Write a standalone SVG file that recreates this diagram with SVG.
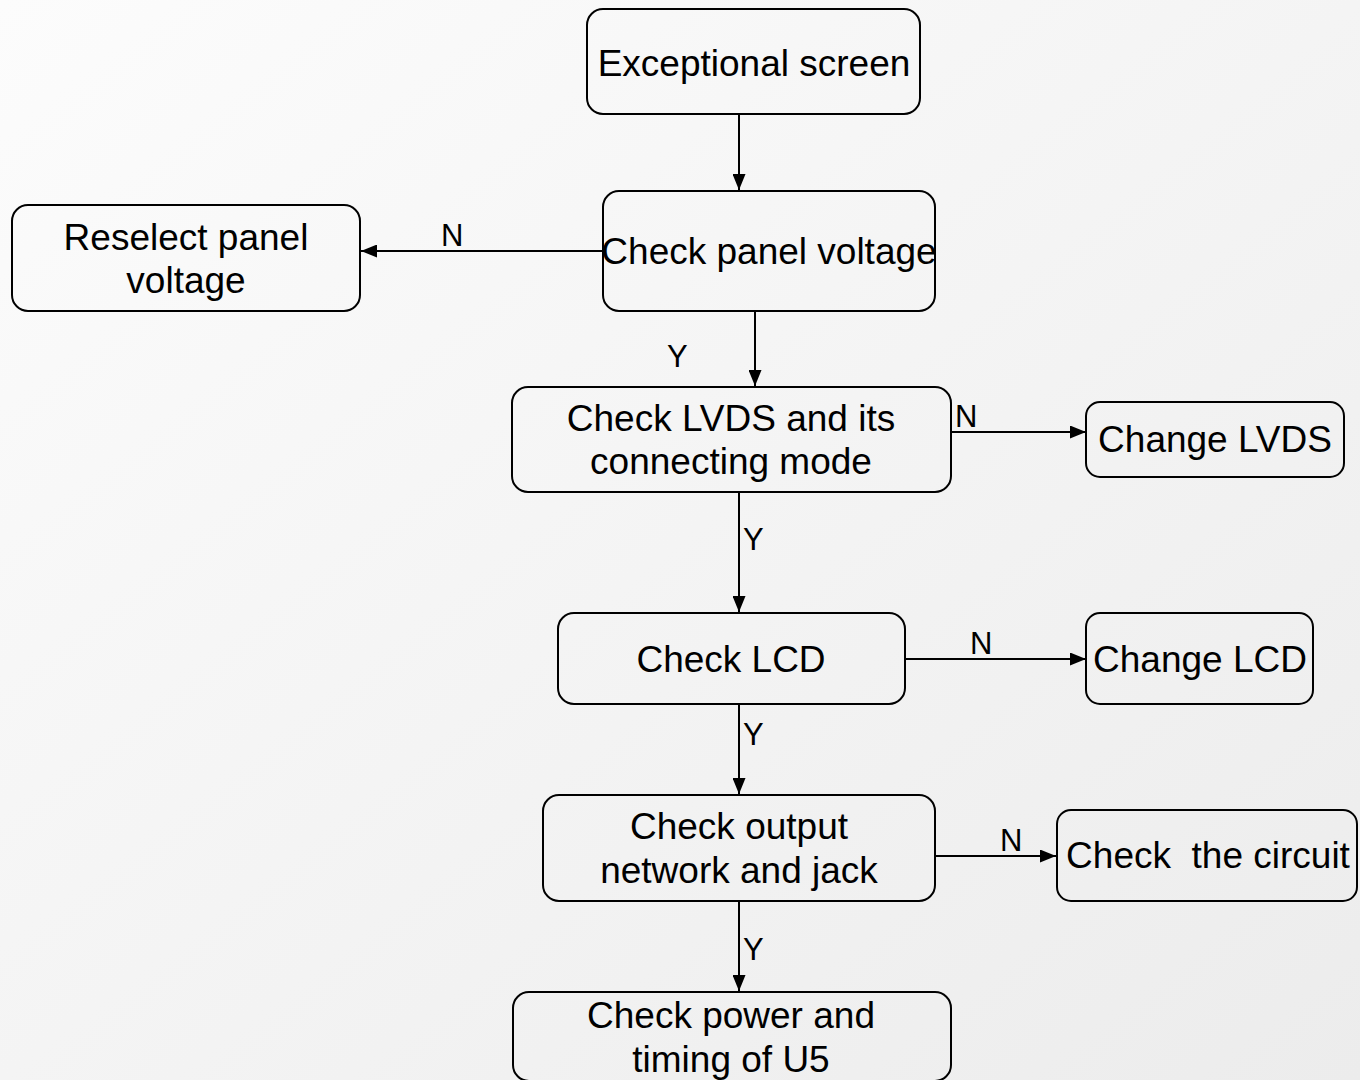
<svg xmlns="http://www.w3.org/2000/svg" width="1360" height="1080" viewBox="0 0 1360 1080">
  <defs>
    <linearGradient id="bg" x1="0" y1="0" x2="1" y2="1">
      <stop offset="0" stop-color="#fcfcfc"/>
      <stop offset="1" stop-color="#ececec"/>
    </linearGradient>
    <marker id="arrow" viewBox="0 0 16 13" refX="16" refY="6.5" markerWidth="16" markerHeight="13" markerUnits="userSpaceOnUse" orient="auto">
      <path d="M0,0 L16,6.5 L0,13 Z" fill="#000"/>
    </marker>
    <style>
      .box { fill: none; stroke: #000; stroke-width: 2; }
      .lbl { font-family: "Liberation Sans", Arial, sans-serif; font-size: 37px; fill: #000; text-anchor: middle; }
      .yn { font-family: "Liberation Sans", Arial, sans-serif; font-size: 31px; fill: #000; }
      .edge { fill: none; stroke: #000; stroke-width: 2; marker-end: url(#arrow); }
    </style>
  </defs>

  <rect width="1360" height="1080" fill="url(#bg)"/>

  <!-- connectors -->
  <g id="connectors">
    <line class="edge" x1="739" y1="115" x2="739" y2="190"/>
    <line class="edge" x1="603" y1="251" x2="361" y2="251"/>
    <line class="edge" x1="755" y1="311" x2="755" y2="386"/>
    <line class="edge" x1="951" y1="432" x2="1086" y2="432"/>
    <line class="edge" x1="739" y1="492" x2="739" y2="612"/>
    <line class="edge" x1="905" y1="659" x2="1086" y2="659"/>
    <line class="edge" x1="739" y1="704" x2="739" y2="794"/>
    <line class="edge" x1="935" y1="856" x2="1056" y2="856"/>
    <line class="edge" x1="739" y1="901" x2="739" y2="991"/>
    <text class="yn" x="441" y="246">N</text>
    <text class="yn" x="667" y="367">Y</text>
    <text class="yn" x="955" y="427">N</text>
    <text class="yn" x="743" y="550">Y</text>
    <text class="yn" x="970" y="654">N</text>
    <text class="yn" x="743" y="745">Y</text>
    <text class="yn" x="1000" y="851">N</text>
    <text class="yn" x="743" y="960">Y</text>
  </g>

  <g id="exceptional-screen">
    <rect class="box" x="587" y="9" width="333" height="105" rx="16"/>
    <text class="lbl" x="754" y="76">Exceptional screen</text>
  </g>

  <g id="check-panel-voltage">
    <rect class="box" x="603" y="191" width="332" height="120" rx="16"/>
    <text class="lbl" x="769" y="264">Check panel voltage</text>
  </g>

  <g id="reselect-panel-voltage">
    <rect class="box" x="12" y="205" width="348" height="106" rx="16"/>
    <text class="lbl" x="186" y="250">Reselect panel</text>
    <text class="lbl" x="186" y="293">voltage</text>
  </g>

  <g id="check-lvds">
    <rect class="box" x="512" y="387" width="439" height="105" rx="16"/>
    <text class="lbl" x="731" y="431">Check LVDS and its</text>
    <text class="lbl" x="731" y="474">connecting mode</text>
  </g>

  <g id="change-lvds">
    <rect class="box" x="1086" y="402" width="258" height="75" rx="14"/>
    <text class="lbl" x="1215" y="452">Change LVDS</text>
  </g>

  <g id="check-lcd">
    <rect class="box" x="558" y="613" width="347" height="91" rx="16"/>
    <text class="lbl" x="731" y="672">Check LCD</text>
  </g>

  <g id="change-lcd">
    <rect class="box" x="1086" y="613" width="227" height="91" rx="14"/>
    <text class="lbl" x="1200" y="672">Change LCD</text>
  </g>

  <g id="check-output">
    <rect class="box" x="543" y="795" width="392" height="106" rx="16"/>
    <text class="lbl" x="739" y="839">Check output</text>
    <text class="lbl" x="739" y="883">network and jack</text>
  </g>

  <g id="check-circuit">
    <rect class="box" x="1057" y="810" width="300" height="91" rx="14"/>
    <text class="lbl" x="1208" y="868" xml:space="preserve">Check  the circuit</text>
  </g>

  <g id="check-power">
    <rect class="box" x="513" y="992" width="438" height="89" rx="16"/>
    <text class="lbl" x="731" y="1028">Check power and</text>
    <text class="lbl" x="731" y="1072">timing of U5</text>
  </g>
</svg>
